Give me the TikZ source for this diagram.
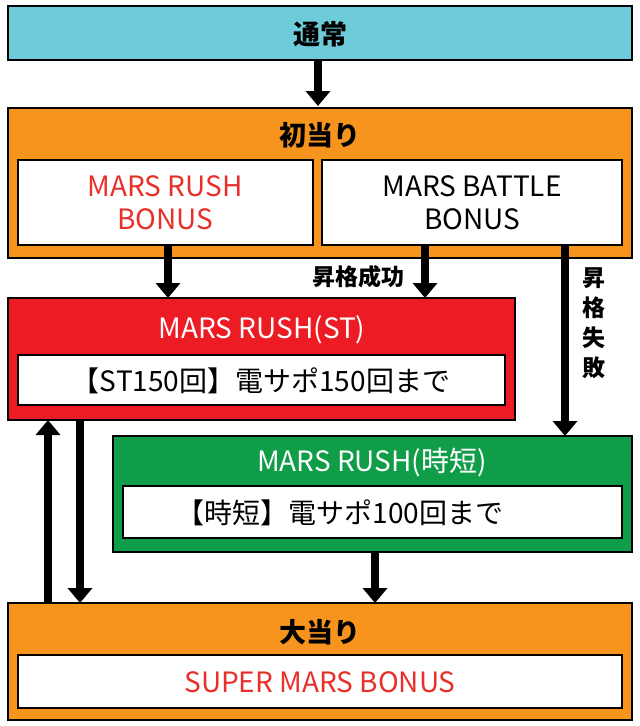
\documentclass[tikz,border=0pt]{standalone}
\usepackage{fontspec}
\setmainfont{Noto Sans CJK JP}
\usetikzlibrary{arrows.meta}
\definecolor{cy}{HTML}{6DCBDA}
\definecolor{org}{HTML}{F7941D}
\definecolor{rd}{HTML}{ED1C24}
\definecolor{gr}{HTML}{0F9D48}
\definecolor{rtxt}{HTML}{E8302A}
\tikzset{x=1pt,y=-1pt,
 box/.style={draw=black,line width=1.5pt,inner sep=0pt},
 inner/.style={draw=black,line width=1.2pt,fill=white,inner sep=0pt},
 arr/.style={line width=8pt,-{Triangle[length=15pt,width=24pt]}},
 tt/.style={font=\fontsize{28}{33}\selectfont},
 hd/.style={font=\fontsize{27}{30}\selectfont\bfseries}}
\begin{document}
\begin{tikzpicture}
\useasboundingbox (0,0) rectangle (640,726);
% top
\draw[box,fill=cy] (8,6) rectangle (632,60);
\node[hd] (t0) at (320,34) {通常};
\coordinate (a0) at (318,60); \coordinate (a1) at (318,106);
\draw[arr] (a0) -- (a1);
% first hit
\draw[box,fill=org] (8,108) rectangle (632,258);
\node[hd] (t1) at (320,135) {初当り};
\draw[inner] (18,160) rectangle (313,245);
\node[tt,text=rtxt,align=center] (rb) at (165,203) {MARS RUSH\\BONUS};
\draw[inner] (322,160) rectangle (622,245);
\node[tt,align=center] (bb) at (472,203) {MARS BATTLE\\BONUS};
\coordinate (b0) at (168,245); \coordinate (b1) at (168,298);
\draw[arr] (b0) -- (b1);
\coordinate (c0) at (425,245); \coordinate (c1) at (425,298);
\draw[arr] (c0) -- (c1);
\node[font=\fontsize{23}{24}\selectfont\bfseries,anchor=east] (l1) at (408,277) {昇格成功};
\coordinate (d0) at (565,245); \coordinate (d1) at (565,436);
\draw[arr] (d0) -- (d1);
\node[font=\fontsize{23}{30}\selectfont\bfseries,align=center,anchor=north] (l2) at (594,264) {昇\\格\\失\\敗};
% ST
\draw[box,fill=rd] (8,298) rectangle (515,420);
\node[tt,text=white] (t2) at (262,330) {MARS RUSH(ST)};
\draw[inner] (18,355) rectangle (505,405);
\node[tt] (s2) at (261,381) {【ST150回】電サポ150回まで};
% jitan
\draw[box,fill=gr] (113,436) rectangle (632,552);
\node[tt,text=white] (t3) at (372,462) {MARS RUSH(時短)};
\draw[inner] (123,486) rectangle (622,538);
\node[tt] (s3) at (340,513) {【時短】電サポ100回まで};
% arrows bottom
\coordinate (e0) at (48,603); \coordinate (e1) at (48,420);
\draw[arr] (e0) -- (e1);
\coordinate (f0) at (80,420); \coordinate (f1) at (80,603);
\draw[arr] (f0) -- (f1);
\coordinate (g0) at (375,552); \coordinate (g1) at (375,603);
\draw[arr] (g0) -- (g1);
% big hit
\draw[box,fill=org] (8,603) rectangle (632,720);
\node[hd] (t4) at (320,632) {大当り};
\draw[inner] (18,655) rectangle (622,708);
\node[tt,text=rtxt] (s4) at (320,682) {SUPER MARS BONUS};
\end{tikzpicture}
\end{document}
